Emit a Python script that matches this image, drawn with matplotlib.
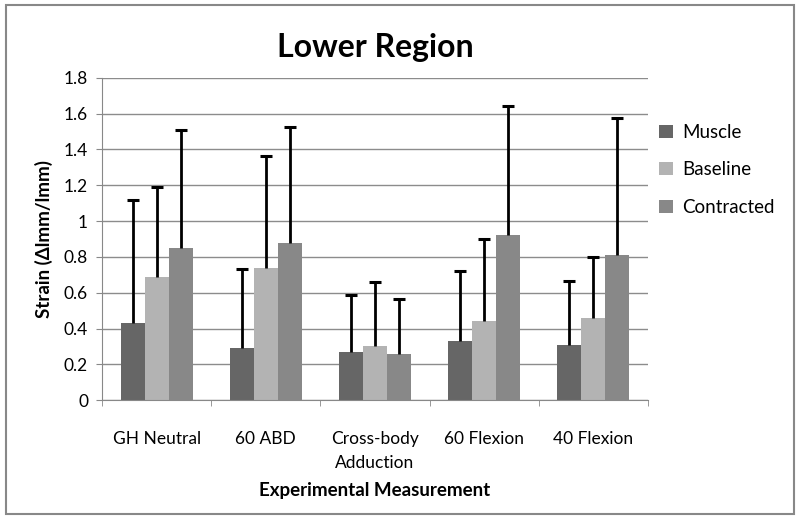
import numpy as np
import matplotlib
matplotlib.use("Agg")
import matplotlib.pyplot as plt
from matplotlib.patches import Rectangle

# Datos
categorias = ["GH Neutral", "60 ABD", "Cross-body\nAdduction", "60 Flexion", "40 Flexion"]
series = ["Muscle", "Baseline", "Contracted"]
muscle = [0.43, 0.29, 0.27, 0.33, 0.31]
baseline = [0.69, 0.74, 0.30, 0.44, 0.46]
contracted = [0.85, 0.88, 0.26, 0.92, 0.81]
# extremo superior de cada barra de error
muscle_top = [1.12, 0.73, 0.585, 0.72, 0.665]
baseline_top = [1.19, 1.365, 0.66, 0.90, 0.80]
contracted_top = [1.51, 1.525, 0.565, 1.645, 1.575]

plt.rcParams["font.family"] = ["Lato", "DejaVu Sans"]

colores = ["#666666", "#b3b3b3", "#888888"]
valores = [muscle, baseline, contracted]
topes = [muscle_top, baseline_top, contracted_top]

fig = plt.figure(figsize=(8.0, 5.19), dpi=100)
fig.patches.append(Rectangle((0.007, 0.01), 0.986, 0.98, transform=fig.transFigure,
                             fill=False, edgecolor="#888888", lw=1.5))
ax = fig.add_axes([0.1275, 0.229, 0.6825, 0.621])

x = np.arange(len(categorias))
ancho = 0.22
for i, (nombre, vals, top, col) in enumerate(zip(series, valores, topes, colores)):
    pos = x + (i - 1) * ancho
    ax.bar(pos, vals, ancho, color=col, label=nombre, zorder=2)
    # solo la mitad superior de la barra de error
    ax.vlines(pos, vals, top, color="black", lw=2, zorder=3)
    ax.plot(pos, top, ls="none", marker="_", ms=9, mew=2.2, color="black", zorder=3)

ax.set_xlim(-0.5, len(categorias) - 0.5)
ax.set_ylim(0, 1.8)
ticks_y = np.round(np.arange(0, 1.81, 0.2), 1)
ax.set_yticks(ticks_y)
ax.set_yticklabels([f"{v:g}" for v in ticks_y], fontsize=12.5)
ax.set_xticks(x)
ax.set_xticklabels(categorias, fontsize=12.5, linespacing=1.65)
ax.tick_params(axis="x", length=0, pad=22)
ax.set_xticks(np.arange(-0.5, len(categorias), 1), minor=True)
ax.tick_params(axis="x", which="minor", length=4, color="#888888")
ax.tick_params(axis="y", length=4, color="#888888", pad=6)
ax.grid(axis="y", color="#8c8c8c", lw=1, zorder=0)
ax.set_axisbelow(True)
for s in ["top", "right"]:
    ax.spines[s].set_visible(False)
for s in ["left", "bottom"]:
    ax.spines[s].set_color("#888888")

ax.set_title("Lower Region", fontsize=23, fontweight="bold", pad=15)
ax.set_xlabel("Experimental Measurement", fontsize=13.5, fontweight="bold", labelpad=8)
ax.set_ylabel("Strain (Δlmm/lmm)", fontsize=13.5, fontweight="bold", labelpad=8)

ax.legend(loc="upper left", bbox_to_anchor=(0.99, 0.91), frameon=False, fontsize=13.5,
          handlelength=0.7, handleheight=0.7, handletextpad=0.5, labelspacing=1.1)

fig.savefig("out.png", dpi=100)
